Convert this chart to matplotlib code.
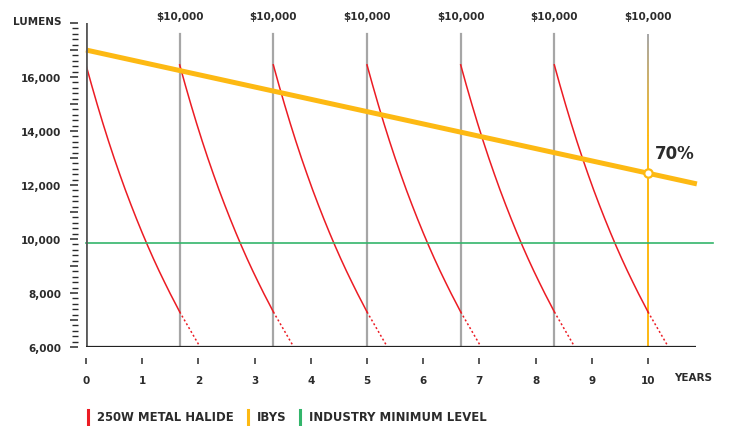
import numpy as np
import matplotlib.pyplot as plt
from matplotlib.ticker import MultipleLocator, FuncFormatter
from matplotlib.collections import LineCollection
from matplotlib.colors import to_rgb

# Data
replace_years = [1.667, 3.333, 5.0, 6.667, 8.333, 10.0]
replace_cost = ["$10,000"] * 6
cycle_starts = [0.0, 1.667, 3.333, 5.0, 6.667, 8.333]

# one metal-halide decay cycle (years since relamp, lumens)
mh_t = [0, 0.1, 0.2, 0.3, 0.4, 0.5, 0.6, 0.7, 0.8, 0.9, 1.0, 1.1, 1.2, 1.3, 1.4, 1.5, 1.6, 1.667]
mh_lm = [16450, 15700, 14980, 14290, 13630, 13000, 12400, 11820, 11270, 10740,
         10230, 9740, 9270, 8820, 8390, 7970, 7570, 7300]
# dotted continuation after relamp
mh_tail_t = [1.667, 2.03]
mh_tail_lm = [7300, 6000]

ibys_t = [0, 10.87]
ibys_lm = [17000, 12040]
ibys_mark_t = 10.0
ibys_mark_lm = 12440
ibys_pct = "70%"

min_level = 9860
min_level_t = [0, 11.15]

RED = "#ec1c24"
YELLOW = "#fdb913"
GREEN = "#33b56b"
GREY = "#a6a6a6"
TXT = "#2b2b2b"

plt.rcParams['font.family'] = ['DejaVu Sans']

fig = plt.figure(figsize=(7.3, 4.27), dpi=100)
ax = fig.add_axes([0.1178, 0.185, 0.8353, 0.7588])
ax.set_xlim(0, 10.85)
ax.set_ylim(6000, 18000)

# replacement lines + cost labels
for x in replace_years[:-1]:
    ax.plot([x, x], [6000, 17600], color=GREY, lw=1.6, zorder=1)
# last one fades from grey to yellow
ys = np.linspace(17600, 13800, 30)
segs = [[(replace_years[-1], ys[i]), (replace_years[-1], ys[i + 1])] for i in range(len(ys) - 1)]
cols = [np.array(to_rgb(GREY)) * (1 - f) + np.array(to_rgb(YELLOW)) * f
        for f in np.linspace(0, 1, len(segs))]
ax.add_collection(LineCollection(segs, colors=cols, lw=1.4, zorder=1))
ax.plot([replace_years[-1]] * 2, [6000, 13800], color=YELLOW, lw=1.4, zorder=1)
for x, lab in zip(replace_years, replace_cost):
    ax.text(x, 18250, lab, ha='center', va='center', fontsize=7.5, fontweight='bold',
            color=TXT, clip_on=False)

# metal halide cycles
for s in cycle_starts:
    ax.plot([s + t for t in mh_t], mh_lm, color=RED, lw=1.1, zorder=2)
    ax.plot([s + t for t in mh_tail_t], mh_tail_lm, color=RED, lw=1.1,
            dashes=(1.3, 1.6), zorder=2)

# industry minimum
ax.plot(min_level_t, [min_level] * 2, color=GREEN, lw=1.2, zorder=2, clip_on=False)

# IBYS
ax.plot(ibys_t, ibys_lm, color=YELLOW, lw=3.6, zorder=3, solid_capstyle='butt', clip_on=False)
ax.plot([ibys_mark_t], [ibys_mark_lm], 'o', ms=6, mfc='white', mec=YELLOW, mew=1.6, zorder=4)
ax.text(ibys_mark_t + 0.13, ibys_mark_lm + 430, ibys_pct, fontsize=12, fontweight='bold',
        color=TXT, va='bottom', ha='left')

# axes styling
for sp in ['top', 'right']:
    ax.spines[sp].set_visible(False)
ax.spines['left'].set_position(('outward', 6))
ax.spines['left'].set_visible(False)
ax.spines['bottom'].set_position(('outward', 8))
ax.spines['bottom'].set_visible(False)
ax.axvline(0, color='#5a5a5a', lw=2.0, zorder=5)
ax.axhline(6000, color='#222222', lw=1.6, zorder=5)

ax.yaxis.set_major_locator(MultipleLocator(1000))
ax.yaxis.set_minor_locator(MultipleLocator(200))
ax.yaxis.set_major_formatter(FuncFormatter(
    lambda v, p: f"{int(v):,}" if v % 2000 == 0 and v < 18000 else ""))
ax.tick_params(axis='y', which='major', length=6, width=1.1, color=TXT, pad=6,
               labelsize=7.5, labelcolor=TXT)
ax.tick_params(axis='y', which='minor', length=4.5, width=1.0, color=TXT)
ax.set_xticks(range(0, 11))
ax.tick_params(axis='x', which='major', length=4.5, width=1.1, color=TXT, pad=8,
               labelsize=7.5, labelcolor=TXT)
for lab in ax.get_xticklabels() + ax.get_yticklabels():
    lab.set_fontweight('bold')

fig.text(13 / 730, 1 - 22 / 427, "LUMENS", fontsize=7.5, fontweight='bold', color=TXT,
         ha='left', va='center')
fig.text(674 / 730, 1 - 378 / 427, "YEARS", fontsize=7.5, fontweight='bold', color=TXT,
         ha='left', va='center')

# legend along the bottom
legend_items = [("250W METAL HALIDE", RED), ("IBYS", YELLOW), ("INDUSTRY MINIMUM LEVEL", GREEN)]
fig.canvas.draw()
r = fig.canvas.get_renderer()
x = 88
yc = 1 - 418 / 427
for name, c in legend_items:
    fig.add_artist(plt.Line2D([x / 730, x / 730], [1 - 425 / 427, 1 - 411 / 427],
                              color=c, lw=2.2, transform=fig.transFigure))
    t = fig.text((x + 9) / 730, yc, name, fontsize=8.4, fontweight='bold', color=TXT,
                 ha='left', va='center')
    bb = t.get_window_extent(renderer=r)
    x = bb.x1 + 14

fig.savefig("out.png", dpi=100)
